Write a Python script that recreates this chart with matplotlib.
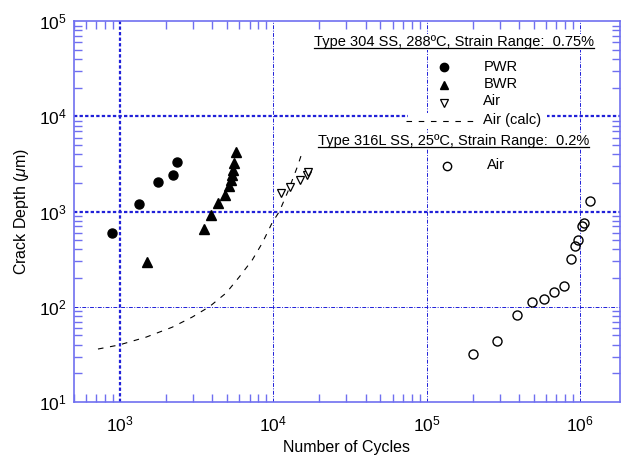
"""Crack depth vs number of cycles, Type 304 SS (288 C) and Type 316L SS (25 C)."""
import matplotlib

matplotlib.use("Agg")
import matplotlib.pyplot as plt
from matplotlib.patches import Rectangle

plt.rcParams.update({
    "font.family": ["Liberation Sans", "DejaVu Sans"],
    "mathtext.fontset": "custom",
    "mathtext.rm": "Liberation Sans",
    "mathtext.it": "Liberation Sans:italic",
    "font.size": 11.5,
})

BLUE = "#2020d8"
SPINE = "#6f6ff0"

# Type 304 SS, 288 C, strain range 0.75 %
pwr_n = [886, 1331, 1772, 2219, 2358]
pwr_a = [602, 1213, 2065, 2445, 3350]

bwr_n = [1500, 3540, 3940, 4370, 4860, 5160, 5310, 5400, 5480, 5550, 5730]
bwr_a = [292, 664, 930, 1240, 1510, 1875, 2170, 2450, 2760, 3270, 4260]

air_n = [11280, 12910, 15000, 16670, 16930]
air_a = [1582, 1828, 2166, 2445, 2600]

calc_n = [718, 985, 1479, 2188, 2958, 3820, 4932, 5997, 7295, 8480, 9840,
          10940, 12400, 14360, 15480]
calc_a = [36, 39.7, 48, 61, 78, 100, 140, 206, 311, 469, 767,
          1000, 1600, 2965, 4264]

# Type 316L SS, 25 C, strain range 0.2 %
air316_n = [2.0e5, 2.9e5, 3.9e5, 4.9e5, 5.8e5, 6.8e5, 7.9e5, 8.7e5, 9.3e5,
            9.7e5, 1.03e6, 1.06e6, 1.16e6]
air316_a = [32, 44, 82, 113, 121, 144, 166, 321, 440, 508, 713, 767, 1305]

fig = plt.figure(figsize=(6.21, 4.61), dpi=100)
ax = fig.add_axes([0.119, 0.128, 0.879, 0.826])
ax.set_xscale("log")
ax.set_yscale("log")
ax.set_xlim(500, 1.82e6)
ax.set_ylim(10, 1e5)

# grid: heavy dotted at a few decades, light dash-dot elsewhere
for xv in [1e3]:
    ax.axvline(xv, color=BLUE, lw=1.6, ls=(0, (1.5, 1.0)), zorder=0)
for yv in [1e3, 1e4]:
    ax.axhline(yv, color=BLUE, lw=1.6, ls=(0, (1.5, 1.0)), zorder=0)
for xv in [1e4, 1e5, 1e6]:
    ax.axvline(xv, color=BLUE, lw=0.7, ls=(0, (4, 1.5, 1, 1.5)), zorder=0)
ax.axhline(1e2, color=BLUE, lw=0.7, ls=(0, (4, 1.5, 1, 1.5)), zorder=0)

ax.plot(calc_n, calc_a, color="black", lw=0.8, ls=(0, (5, 6)), zorder=2)
ax.plot(pwr_n, pwr_a, "o", color="black", ms=6.5, ls="none", zorder=3)
ax.plot(bwr_n, bwr_a, "^", color="black", ms=6.5, ls="none", zorder=3)
ax.plot(air_n, air_a, "v", mfc="white", mec="black", mew=0.9, ms=6,
        ls="none", zorder=3)
ax.plot(air316_n, air316_a, "o", mfc="none", mec="black", mew=1.0, ms=6.5,
        ls="none", zorder=3)

for s in ax.spines.values():
    s.set_color(SPINE)
    s.set_linewidth(1.2)
ax.tick_params(which="both", direction="in", top=True, right=True,
               color=SPINE)
ax.tick_params(which="major", length=0, pad=9, labelsize=12.5)
ax.tick_params(axis="y", which="major", pad=5)
ax.tick_params(which="minor", length=6, width=1.0)

ax.set_xlabel("Number of Cycles", fontsize=11.5, labelpad=4)
ax.set_ylabel(r"Crack Depth ($\mathit{\mu}$m)", fontsize=11.5, labelpad=6)

# legend, drawn by hand to keep the two-block layout
tr = ax.transAxes
ax.add_patch(Rectangle((0.612, 0.718), 0.255, 0.042, transform=tr,
                       facecolor="white", edgecolor="none", zorder=1))
box = dict(facecolor="white", edgecolor="none", pad=0.5)
t1 = ax.text(0.440, 0.945, "Type 304 SS, 288ºC, Strain Range:  0.75%",
             transform=tr, fontsize=10.5, va="center", bbox=box, zorder=4)
t2 = ax.text(0.447, 0.685, "Type 316L SS, 25ºC, Strain Range:  0.2%",
             transform=tr, fontsize=10.5, va="center", bbox=box, zorder=4)

ax.plot([0.678], [0.879], "o", color="black", ms=6, transform=tr)
ax.plot([0.678], [0.832], "^", color="black", ms=6, transform=tr)
ax.plot([0.678], [0.785], "v", mfc="white", mec="black", mew=0.9, ms=5.5,
        transform=tr)
ax.plot([0.609, 0.740], [0.738, 0.738], color="black", lw=0.8,
        ls=(0, (5, 6)), transform=tr, zorder=4)
ax.plot([0.683], [0.619], "o", mfc="none", mec="black", mew=1.0, ms=6,
        transform=tr)
for y, lab in [(0.881, "PWR"), (0.834, "BWR"), (0.790, "Air"),
               (0.740, "Air (calc)")]:
    ax.text(0.750, y, lab, transform=tr, fontsize=10.5, va="center", zorder=4)
ax.text(0.756, 0.622, "Air", transform=tr, fontsize=10.5, va="center")

# underline the two block headings
fig.canvas.draw()
r = fig.canvas.get_renderer()
inv = ax.transAxes.inverted()
for t in (t1, t2):
    bb = t.get_window_extent(r)
    (x0, y0), (x1, _) = inv.transform([(bb.x0, bb.y0), (bb.x1, bb.y1)])
    ax.plot([x0, x1], [y0 + 0.002, y0 + 0.002], color="black", lw=0.9,
            transform=tr, zorder=5)

fig.savefig("out.png", dpi=100)
